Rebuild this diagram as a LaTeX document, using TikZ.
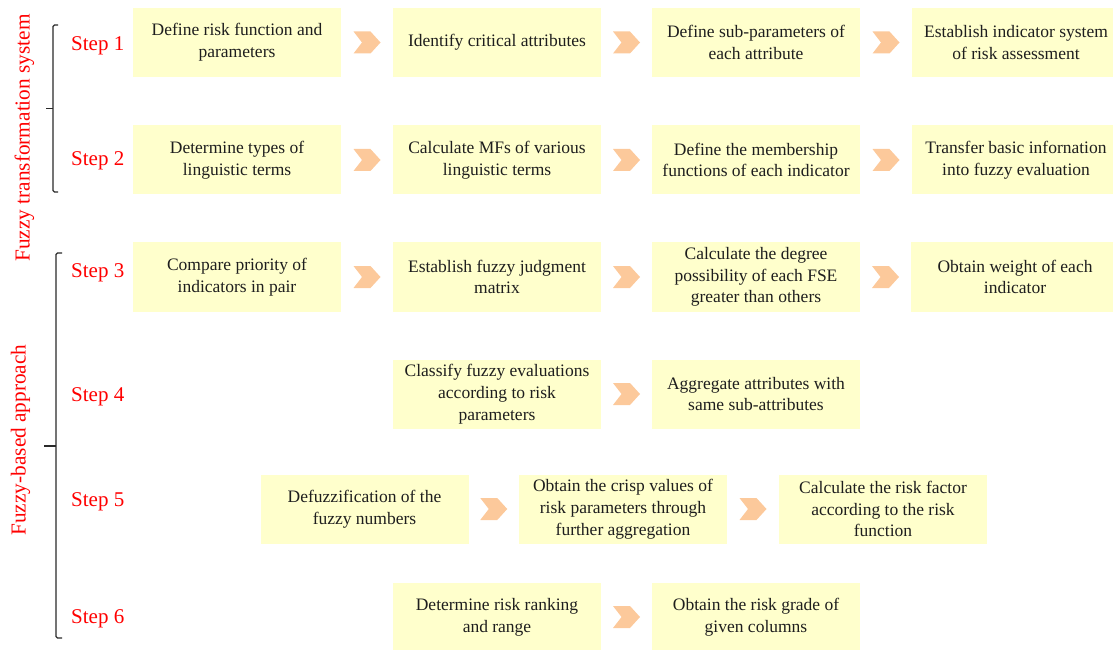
\documentclass[tikz,border=0pt]{standalone}
\usepackage{fontspec}
\setmainfont{Liberation Serif}
\usetikzlibrary{calc}
\definecolor{boxyellow}{HTML}{FFFFCC}
\definecolor{chevorange}{HTML}{FCC99B}
\definecolor{steptxt}{HTML}{FF0000}
\definecolor{brk}{HTML}{2A2A2A}
\definecolor{boxtxt}{HTML}{1E1E1E}
\tikzset{
  box/.style={fill=boxyellow, minimum width=208pt, minimum height=69pt, inner sep=0pt,
    align=center, text=boxtxt, font=\fontsize{17.5}{21.8}\selectfont},
  steplbl/.style={anchor=west, text=steptxt, inner sep=0pt, font=\fontsize{21}{25}\selectfont},
  grouplbl/.style={rotate=90, text=steptxt, inner sep=0pt, font=\fontsize{21.3}{25}\selectfont},
  brace/.style={draw=brk, line width=1.1pt, rounded corners=1.5pt},
  chev/.pic={\fill[chevorange] (-13.5,11) -- (3.5,11) -- (13.5,0) -- (3.5,-11) -- (-13.5,-11) -- (-5,0) -- cycle;}
}
\begin{document}
\begin{tikzpicture}[x=1pt,y=1pt]
\useasboundingbox (0,0) rectangle (1113,649);
\clip (0,0) rectangle (1113,649);
% Row 1
\node[box] (a1) at (237,606.5) {Define risk function and\\parameters};
\node[box] (a2) at (497,606.5) {Identify critical attributes};
\node[box] (a3) at (756,606.5) {Define sub-parameters of\\each attribute};
\node[box] (a4) at (1016,606.5) {Establish indicator system\\of risk assessment};
% Row 2
\node[box] (b1) at (237,489) {Determine types of\\linguistic terms};
\node[box] (b2) at (497,489) {Calculate MFs of various\\linguistic terms};
\node[box] (b3) at (756,489) {Define the membership\\functions of each indicator};
\node[box] (b4) at (1016,489) {Transfer basic infornation\\into fuzzy evaluation};
% Row 3
\node[box] (c1) at (237,372) {Compare priority of\\indicators in pair};
\node[box] (c2) at (497,372) {Establish fuzzy judgment\\matrix};
\node[box] (c3) at (756,372) {Calculate the degree\\possibility of each FSE\\greater than others};
\node[box] (c4) at (1015,372) {Obtain weight of each\\indicator};
% Row 4
\node[box] (d1) at (497,255) {Classify fuzzy evaluations\\according to risk\\parameters};
\node[box] (d2) at (756,255) {Aggregate attributes with\\same sub-attributes};
% Row 5
\node[box] (e1) at (364.5,140) {Defuzzification of the\\fuzzy numbers};
\node[box] (e2) at (623,140) {Obtain the crisp values of\\risk parameters through\\further aggregation};
\node[box] (e3) at (883,140) {Calculate the risk factor\\according to the risk\\function};
% Row 6
\node[box] (f1) at (497,32) {Determine risk ranking\\and range};
\node[box] (f2) at (756,32) {Obtain the risk grade of\\given columns};
% Chevrons
\foreach \u/\v in {a1/a2,a2/a3,a3/a4,b1/b2,b2/b3,b3/b4,c1/c2,c2/c3,c3/c4,d1/d2,e1/e2,e2/e3,f1/f2}
  \path ($(\u.east)!0.5!(\v.west)$) pic{chev};
% Step labels
\node[steplbl] (s1) at (71,603) {Step 1};
\node[steplbl] (s2) at (71,488) {Step 2};
\node[steplbl] (s3) at (71,376) {Step 3};
\node[steplbl] (s4) at (71,252) {Step 4};
\node[steplbl] (s5) at (71,147) {Step 5};
\node[steplbl] (s6) at (71,30) {Step 6};
% Group labels
\node[grouplbl] (g1) at (24.5,511) {Fuzzy transformation system};
\node[grouplbl] (g2) at (20.5,209) {Fuzzy-based approach};
% Brackets
\draw[brace] (58,624) -- (53,624) -- (53,457) -- (58,457);
\draw[brk, line width=1.1pt] (53,540.5) -- (46,540.5);
\draw[brace] (62,396) -- (56,396) -- (56,11) -- (62,11);
\draw[brk, line width=1.1pt] (56,203) -- (44,203);
\end{tikzpicture}
\end{document}
